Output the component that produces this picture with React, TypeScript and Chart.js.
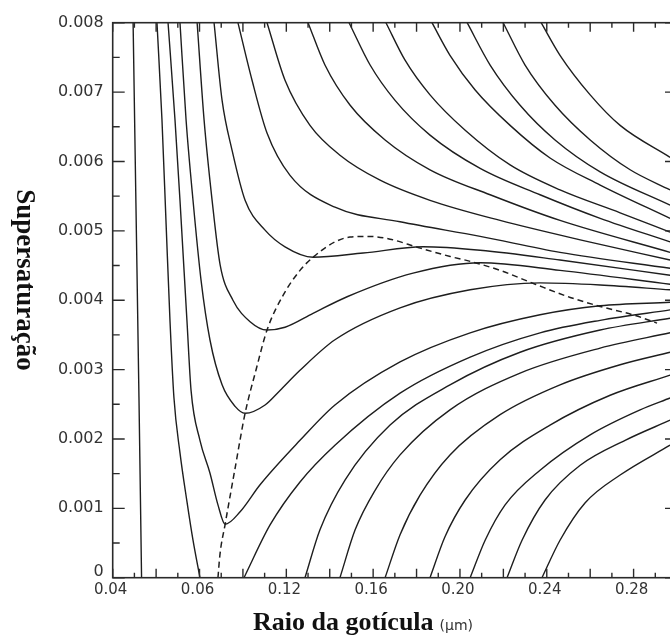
import React, { useEffect, useRef } from 'react';
import { Chart, registerables } from 'chart.js';
Chart.register(...registerables);

// ---- axis ticks ----
const xTickValues = [0.04, 0.08, 0.12, 0.16, 0.2, 0.24, 0.28];
const xTickLabels = ['0.04', '0.06', '0.12', '0.16', '0.20', '0.24', '0.28'];
const yTickValues = [0, 0.001, 0.002, 0.003, 0.004, 0.005, 0.006, 0.007, 0.008];
const yTickLabels = ['0', '0.001', '0.002', '0.003', '0.004', '0.005', '0.006', '0.007', '0.008'];
const xTitle = 'Raio da gotícula';
const xUnit = '(μm)';
const yTitle = 'Supersaturação';

// ---- curves [radius, supersaturation] ----
const curveA1 = [[0.0494, 0.008], [0.0507, 0.0054], [0.0521, 0.0026], [0.0533, 0]];
const curveA2 = [[0.0604, 0.008], [0.0627, 0.0066], [0.0646, 0.0051], [0.0664, 0.0037], [0.0682, 0.0026], [0.071, 0.0018], [0.0742, 0.0011], [0.077, 0.00054], [0.0802, 0]];
const curveU1 = [[0.0655, 0.008], [0.0687, 0.0066], [0.071, 0.00544], [0.0742, 0.00371], [0.0761, 0.0027], [0.0802, 0.00198], [0.0848, 0.00151], [0.0885, 0.00105], [0.0918, 0.00077], [0.0987, 0.00095], [0.1079, 0.00134], [0.1263, 0.00198], [0.1424, 0.00249], [0.1724, 0.00311], [0.2047, 0.00353], [0.2369, 0.00379], [0.2646, 0.00392], [0.2968, 0.00397]];
const curveU2 = [[0.071, 0.008], [0.0738, 0.0066], [0.077, 0.00544], [0.0807, 0.00429], [0.0848, 0.00343], [0.0904, 0.00278], [0.0964, 0.00247], [0.101, 0.00237], [0.1102, 0.00249], [0.1171, 0.0027], [0.1263, 0.00299], [0.1424, 0.00343], [0.1724, 0.00389], [0.2047, 0.00415], [0.2369, 0.00425], [0.2646, 0.00422], [0.2968, 0.00415]];
const curveU3 = [[0.0789, 0.008], [0.0821, 0.0066], [0.0858, 0.00544], [0.0895, 0.00451], [0.0954, 0.004], [0.1033, 0.00369], [0.1111, 0.00357], [0.1194, 0.00361], [0.1323, 0.00381], [0.148, 0.00405], [0.1784, 0.00439], [0.2093, 0.00454], [0.2461, 0.00443], [0.2968, 0.00423]];
const curveU4 = [[0.0867, 0.008], [0.0904, 0.00688], [0.095, 0.00616], [0.101, 0.00544], [0.1102, 0.00501], [0.1194, 0.00477], [0.1323, 0.00462], [0.1554, 0.00468], [0.183, 0.00477], [0.2093, 0.00472], [0.2461, 0.00458], [0.2968, 0.00436]];
const curveD1 = [[0.0977, 0.008], [0.1042, 0.00717], [0.1111, 0.00641], [0.1217, 0.0058], [0.1424, 0.00534], [0.1724, 0.00513], [0.2093, 0.00492], [0.2461, 0.00469], [0.2968, 0.00446]];
const curveD2 = [[0.1111, 0.008], [0.1194, 0.00717], [0.1309, 0.00652], [0.1447, 0.00609], [0.1632, 0.00573], [0.1862, 0.00544], [0.2185, 0.00515], [0.2554, 0.00487], [0.2968, 0.00458]];
const curveD3 = [[0.13, 0.008], [0.1378, 0.00739], [0.1494, 0.00681], [0.1655, 0.00631], [0.1862, 0.00588], [0.2139, 0.00552], [0.2461, 0.00515], [0.2968, 0.00469]];
const curveD4 = [[0.1489, 0.008], [0.1586, 0.00739], [0.1701, 0.00688], [0.1862, 0.00638], [0.2093, 0.0059], [0.2369, 0.00552], [0.2646, 0.00518], [0.2968, 0.00484]];
const curveD5 = [[0.1659, 0.008], [0.1747, 0.00746], [0.1862, 0.00696], [0.2024, 0.00645], [0.2231, 0.00595], [0.2461, 0.00559], [0.2738, 0.00526], [0.2968, 0.00498]];
const curveD6 = [[0.1871, 0.008], [0.1954, 0.00753], [0.207, 0.00703], [0.2231, 0.00652], [0.2415, 0.00605], [0.2646, 0.00566], [0.2968, 0.00518]];
const curveD7 = [[0.2033, 0.008], [0.2139, 0.00739], [0.2277, 0.00681], [0.2438, 0.00631], [0.2646, 0.00585], [0.2968, 0.00537]];
const curveD8 = [[0.2199, 0.008], [0.23, 0.00739], [0.2438, 0.00681], [0.26, 0.00631], [0.2784, 0.00588], [0.2968, 0.00559]];
const curveD9 = [[0.2374, 0.008], [0.2461, 0.00753], [0.26, 0.00696], [0.2738, 0.00652], [0.2968, 0.00606]];
const curveR1 = [[0.1005, 0], [0.1125, 0.00076], [0.1263, 0.00138], [0.1424, 0.00191], [0.1724, 0.00266], [0.2047, 0.00318], [0.2369, 0.00353], [0.2646, 0.00371], [0.2968, 0.00386]];
const curveR2 = [[0.1286, 0], [0.1355, 0.00069], [0.1471, 0.00141], [0.1678, 0.0022], [0.1954, 0.00278], [0.2277, 0.00325], [0.2646, 0.00357], [0.2968, 0.00374]];
const curveR3 = [[0.1447, 0], [0.1517, 0.00069], [0.1609, 0.00126], [0.1724, 0.00177], [0.1954, 0.00242], [0.2277, 0.00295], [0.2646, 0.00331], [0.2968, 0.00353]];
const curveR4 = [[0.1655, 0], [0.1724, 0.00062], [0.1816, 0.00119], [0.1954, 0.00177], [0.2185, 0.00235], [0.2461, 0.00278], [0.2738, 0.00307], [0.2968, 0.00325]];
const curveR5 = [[0.1862, 0], [0.1931, 0.00059], [0.2024, 0.00112], [0.2185, 0.0017], [0.2415, 0.0022], [0.2692, 0.00263], [0.2968, 0.00292]];
const curveR6 = [[0.2047, 0], [0.2116, 0.00054], [0.2208, 0.00105], [0.2369, 0.00155], [0.26, 0.00206], [0.283, 0.00242], [0.2968, 0.00259]];
const curveR7 = [[0.2217, 0], [0.2286, 0.00054], [0.2392, 0.00112], [0.2554, 0.00162], [0.2761, 0.00198], [0.2968, 0.00227]];
const curveR8 = [[0.2378, 0], [0.2461, 0.00054], [0.2577, 0.00108], [0.2738, 0.00148], [0.2968, 0.00191]];
const locusDashed = [[0.0885, 0], [0.0894, 0.00033], [0.0918, 0.00077], [0.0964, 0.00158], [0.101, 0.00237], [0.106, 0.00299], [0.1111, 0.00357], [0.1185, 0.00407], [0.1263, 0.00443], [0.1323, 0.00462], [0.1424, 0.00484], [0.1493, 0.00491], [0.1577, 0.00492], [0.1678, 0.00488], [0.1807, 0.00476], [0.1955, 0.00463], [0.2047, 0.00456], [0.2185, 0.00443], [0.2347, 0.00423], [0.2508, 0.00404], [0.2646, 0.00391], [0.2807, 0.00378], [0.2908, 0.00367]];

const solidCurves = [
  curveA1, curveA2, curveU1, curveU2, curveU3, curveU4,
  curveD1, curveD2, curveD3, curveD4, curveD5, curveD6, curveD7, curveD8, curveD9,
  curveR1, curveR2, curveR3, curveR4, curveR5, curveR6, curveR7, curveR8,
];

const X_MIN = 0.04;
const X_MAX = 0.3;
const Y_MIN = 0;
const Y_MAX = 0.008;

const W = 700;
const H = 637;

const framePlugin = {
  id: 'frame',
  afterDraw(chart: any) {
    const { ctx, chartArea: a } = chart;
    const xs = chart.scales.x;
    const ys = chart.scales.y;
    ctx.save();
    ctx.strokeStyle = '#2a2a2a';
    ctx.lineWidth = 1.6;
    ctx.strokeRect(a.left, a.top, a.right - a.left, a.bottom - a.top);

    ctx.lineWidth = 1.4;
    for (let i = 0; i <= 16; i++) {
      const v = i * 0.0005;
      const py = ys.getPixelForValue(v);
      const len = i % 2 === 0 ? 12 : 7;
      ctx.beginPath();
      ctx.moveTo(a.left, py);
      ctx.lineTo(a.left + len, py);
      ctx.moveTo(a.right, py);
      ctx.lineTo(a.right - len, py);
      ctx.stroke();
    }
    for (let i = 4; i <= 30; i++) {
      const v = i / 100;
      const px = xs.getPixelForValue(v);
      const len = i % 2 === 0 ? 9 : 5;
      ctx.beginPath();
      ctx.moveTo(px, a.bottom);
      ctx.lineTo(px, a.bottom - len);
      ctx.moveTo(px, a.top);
      ctx.lineTo(px, a.top + len);
      ctx.stroke();
    }

    ctx.fillStyle = '#333';
    ctx.font = '16px "DejaVu Sans", sans-serif';
    ctx.textAlign = 'right';
    ctx.textBaseline = 'middle';
    yTickValues.forEach((v, i) => {
      const py = ys.getPixelForValue(v) - (v === 0 ? 6 : 0);
      ctx.fillText(yTickLabels[i], a.left - 9, py);
    });
    ctx.textAlign = 'center';
    ctx.textBaseline = 'top';
    ctx.font = '15px "DejaVu Sans", sans-serif';
    xTickValues.forEach((v, i) => {
      const px = xs.getPixelForValue(v);
      ctx.fillText(xTickLabels[i], px - 2, a.bottom + 5);
    });

    ctx.fillStyle = '#111';
    ctx.font = 'bold 26px "Liberation Serif", serif';
    ctx.textAlign = 'left';
    ctx.textBaseline = 'alphabetic';
    const tw = ctx.measureText(xTitle).width;
    const startX = 253;
    ctx.fillText(xTitle, startX, 630);
    ctx.font = '14px "DejaVu Sans", sans-serif';
    ctx.fillStyle = '#333';
    ctx.fillText(xUnit, startX + tw + 6, 630);

    ctx.save();
    ctx.translate(17, 280);
    ctx.rotate(Math.PI / 2);
    ctx.fillStyle = '#111';
    ctx.font = 'bold 27px "Liberation Serif", serif';
    ctx.textAlign = 'center';
    ctx.textBaseline = 'alphabetic';
    ctx.fillText(yTitle, 0, 0);
    ctx.restore();

    ctx.restore();
  },
};

export default function App() {
  const ref = useRef<HTMLCanvasElement | null>(null);
  useEffect(() => {
    if (!ref.current) return;
    const datasets: any[] = solidCurves.map((c) => ({
      data: c.map(([x, y]) => ({ x, y })),
      showLine: true,
      borderColor: '#1e1e1e',
      borderWidth: 1.4,
      pointRadius: 0,
      cubicInterpolationMode: 'monotone',
      fill: false,
    }));
    datasets.push({
      data: locusDashed.map(([x, y]) => ({ x, y })),
      showLine: true,
      borderColor: '#1e1e1e',
      borderWidth: 1.5,
      borderDash: [6, 4],
      pointRadius: 0,
      cubicInterpolationMode: 'monotone',
      fill: false,
    });
    const chart = new Chart(ref.current, {
      type: 'scatter',
      data: { datasets },
      options: {
        animation: false,
        responsive: false,
        maintainAspectRatio: false,
        events: [],
        layout: { padding: { left: 0, top: 22.7, right: W - 677, bottom: 0 } },
        plugins: { legend: { display: false }, tooltip: { enabled: false } },
        scales: {
          x: {
            type: 'linear',
            min: X_MIN,
            max: X_MAX,
            ticks: { display: false },
            grid: { display: false },
            border: { display: false },
            afterFit: (s: any) => { s.height = H - 577.7; },
          },
          y: {
            type: 'linear',
            min: Y_MIN,
            max: Y_MAX,
            ticks: { display: false },
            grid: { display: false },
            border: { display: false },
            afterFit: (s: any) => { s.width = 112.7; },
          },
        },
      } as any,
      plugins: [framePlugin],
    });
    return () => chart.destroy();
  }, []);
  return (
    <div style={{ position: 'fixed', left: 0, top: 0, width: 670, height: H, overflow: 'hidden', background: '#fff' }}>
      <canvas ref={ref} width={W} height={H} style={{ width: W, height: H, display: 'block' }} />
    </div>
  );
}
